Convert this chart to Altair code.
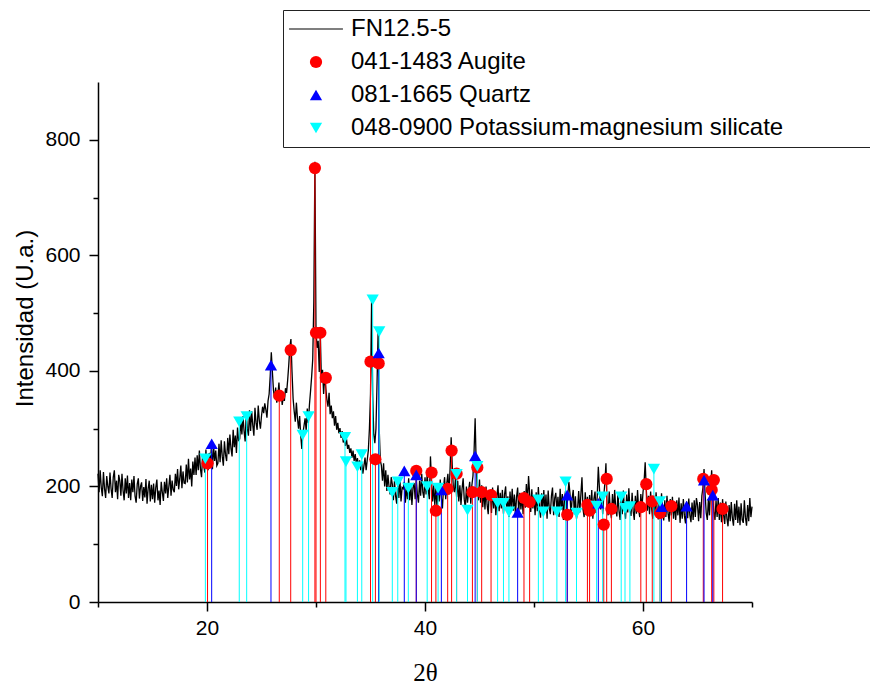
import altair as alt
import pandas as pd

pattern_start = 10
pattern_step = 0.1
pattern_rows = [
    [222, 190, 228, 198, 183, 225, 196, 180, 218, 200],  # 10
    [188, 224, 196, 180, 216, 228, 190, 210, 178, 220],  # 11
    [210, 184, 222, 193, 176, 214, 188, 219, 180, 206],  # 12
    [176, 212, 190, 218, 183, 172, 204, 214, 179, 200],  # 13
    [207, 175, 199, 181, 213, 170, 196, 210, 174, 203],  # 14
    [178, 205, 172, 198, 212, 176, 193, 168, 208, 190],  # 15
    [175, 208, 188, 214, 180, 200, 220, 184, 210, 194],  # 16
    [190, 222, 201, 230, 195, 213, 236, 197, 226, 206],  # 17
    [205, 238, 207, 248, 212, 231, 200, 243, 220, 250],  # 18
    [220, 254, 228, 262, 230, 216, 256, 236, 224, 264],  # 19
    [232, 228, 258, 238, 268, 230, 272, 244, 262, 236],  # 20
    [240, 274, 242, 280, 252, 236, 278, 255, 244, 284],  # 21
    [256, 290, 266, 252, 298, 268, 288, 258, 302, 280],  # 22
    [282, 314, 290, 322, 296, 278, 328, 300, 288, 332],  # 23
    [296, 330, 306, 288, 336, 310, 298, 340, 314, 300],  # 24
    [322, 338, 327, 344, 333, 319, 348, 360, 392, 432],  # 25
    [398, 366, 352, 371, 345, 358, 380, 349, 362, 341],  # 26
    [355, 348, 370, 362, 384, 410, 442, 455, 398, 352],  # 27
    [330, 312, 345, 318, 300, 322, 288, 265, 292, 305],  # 28
    [318, 296, 335, 310, 342, 365, 390, 420, 520, 762],  # 29
    [470, 440, 452, 398, 462, 380, 402, 360, 392, 370],  # 30
    [350, 338, 362, 325, 340, 318, 330, 305, 322, 298],  # 31
    [310, 292, 301, 284, 296, 276, 288, 270, 282, 265],  # 32
    [272, 258, 266, 250, 262, 244, 256, 238, 249, 232],  # 33
    [245, 228, 240, 222, 236, 250, 228, 246, 262, 300],  # 34
    [360, 522, 360, 290, 275, 300, 380, 470, 300, 245],  # 35
    [236, 210, 240, 200, 228, 192, 220, 200, 186, 216],  # 36
    [204, 176, 210, 184, 170, 204, 180, 212, 174, 198],  # 37
    [196, 208, 172, 200, 178, 214, 176, 204, 168, 198],  # 38
    [206, 178, 214, 186, 172, 210, 184, 222, 190, 180],  # 39
    [216, 186, 222, 194, 178, 252, 210, 174, 202, 168],  # 40
    [198, 164, 206, 174, 212, 180, 162, 200, 216, 178],  # 41
    [206, 222, 186, 230, 285, 236, 198, 190, 216, 182],  # 42
    [210, 174, 202, 168, 196, 214, 178, 162, 200, 172],  # 43
    [192, 208, 170, 202, 218, 260, 318, 236, 190, 176],  # 44
    [212, 172, 202, 164, 196, 160, 200, 168, 152, 192],  # 45
    [186, 154, 198, 162, 190, 150, 184, 202, 157, 189],  # 46
    [162, 194, 153, 187, 200, 156, 183, 147, 191, 161],  # 47
    [196, 158, 186, 150, 182, 198, 155, 189, 160, 184],  # 48
    [152, 192, 163, 204, 170, 218, 188, 156, 195, 162],  # 49
    [184, 150, 190, 157, 199, 164, 146, 188, 159, 194],  # 50
    [155, 186, 144, 193, 162, 152, 184, 198, 150, 180],  # 51
    [189, 157, 182, 147, 196, 160, 187, 142, 179, 193],  # 52
    [154, 184, 208, 188, 150, 180, 194, 152, 183, 144],  # 53
    [162, 192, 155, 186, 216, 160, 147, 190, 158, 182],  # 54
    [150, 185, 157, 194, 144, 179, 191, 154, 183, 234],  # 55
    [198, 160, 190, 152, 183, 206, 240, 168, 150, 191],  # 56
    [160, 145, 187, 154, 194, 162, 148, 189, 157, 142],  # 57
    [182, 152, 193, 158, 144, 186, 155, 197, 162, 149],  # 58
    [189, 157, 142, 184, 153, 194, 160, 147, 187, 162],  # 59
    [190, 208, 242, 196, 158, 184, 152, 191, 160, 144],  # 60
    [183, 152, 190, 158, 143, 180, 150, 188, 156, 141],  # 61
    [176, 147, 184, 153, 139, 178, 150, 182, 144, 173],  # 62
    [142, 176, 150, 181, 137, 171, 144, 178, 149, 136],  # 63
    [174, 145, 179, 150, 138, 172, 142, 176, 147, 180],  # 64
    [168, 140, 173, 145, 184, 198, 230, 186, 154, 142],  # 65
    [178, 150, 198, 228, 184, 155, 142, 176, 147, 180],  # 66
    [142, 172, 138, 178, 150, 135, 174, 144, 131, 168],  # 67
    [140, 173, 145, 132, 170, 142, 176, 137, 165, 133],  # 68
    [171, 142, 137, 176, 146, 132, 168, 140, 180, 147],  # 69
    [165],                                               # 70
]

augite_x = [20.05, 26.63, 27.68, 29.9, 30.0, 30.4, 30.9, 35.0, 35.45, 35.75,
            39.2, 40.6, 41.0, 42.08, 42.44, 42.9, 44.35, 44.8, 45.2, 46.06,
            49.08, 49.6, 53.05, 54.9, 55.1, 56.4, 56.67, 57.1, 59.8, 60.3,
            60.85, 61.56, 62.6, 65.53, 66.3, 66.5, 67.3]
augite_y = [240, 357, 436, 751, 466, 466, 388, 416, 247, 413,
            227, 224, 158, 196, 262, 222, 190, 233, 190, 185,
            180, 173, 151, 168, 158, 134, 213, 161, 164, 204,
            174, 154, 166, 213, 194, 211, 161]

quartz_x = [20.43, 25.87, 35.75, 38.1, 39.2, 41.5, 44.6, 48.5, 53.05, 55.9,
            61.7, 64.0, 65.6, 66.4]
quartz_y = [274, 410, 431, 227, 220, 194, 253, 155, 185, 171,
            165, 166, 211, 185]

kmg_x = [19.85, 22.96, 23.64, 28.78, 29.32, 32.66, 32.75, 33.8, 34.2, 35.2,
         35.8, 37.0, 37.5, 38.47, 40.2, 41.2, 42.9, 43.9, 44.8, 46.66,
         47.2, 47.7, 50.4, 50.85, 52.1, 52.9, 53.9, 55.74, 56.3, 58.0,
         58.35, 58.8, 61.0, 61.56]
kmg_y = [248, 312, 321, 289, 321, 285, 243, 234, 255, 523,
         468, 190, 208, 197, 200, 197, 221, 159, 235, 171,
         171, 156, 177, 156, 156, 208, 154, 166, 182, 182,
         162, 165, 230, 174]

series_names = ["FN12.5-5", "041-1483 Augite", "081-1665 Quartz",
                "048-0900 Potassium-magnesium silicate"]
series_colors = ["#000000", "#ff0000", "#0000ff", "#00ffff"]
series_shapes = ["M-4.4,-0.07L4.4,-0.07L4.4,0.07L-4.4,0.07Z", "circle", "triangle-up", "triangle-down"]

pat_x, pat_y = [], []
for i, row in enumerate(pattern_rows):
    for k, v in enumerate(row):
        pat_x.append(round(pattern_start + i + k * pattern_step, 1))
        pat_y.append(v)
pattern = pd.DataFrame({"two_theta": pat_x, "intensity": pat_y})

refs = pd.concat([
    pd.DataFrame({"two_theta": augite_x, "intensity": augite_y,
                  "series": series_names[1], "stick_color": series_colors[1]}),
    pd.DataFrame({"two_theta": quartz_x, "intensity": quartz_y,
                  "series": series_names[2], "stick_color": series_colors[2]}),
    pd.DataFrame({"two_theta": kmg_x, "intensity": kmg_y,
                  "series": series_names[3], "stick_color": series_colors[3]}),
], ignore_index=True)

FONT = "Liberation Sans"

x_scale = alt.Scale(domain=[10, 70], nice=False, zero=False)
y_scale = alt.Scale(domain=[0, 900], nice=False)

x_axis = alt.Axis(
    values=[10, 20, 30, 40, 50, 60, 70], format="d",
    labelExpr="datum.value % 20 == 0 ? datum.label : ''",
    tickSize={"condition": {"test": "datum.value % 20 == 0", "value": 9}, "value": 5},
    grid=False, title="2θ", titleFont="Liberation Serif", titleFontSize=25,
    titleFontWeight="normal", titleColor="black", titleX=327, titleY=58,
    labelFont=FONT, labelFontSize=21, labelColor="black", labelPadding=6,
    domainColor="black", tickColor="black", domainWidth=1.5, tickWidth=1.5,
)
y_axis = alt.Axis(
    values=[0, 100, 200, 300, 400, 500, 600, 700, 800], format="d",
    labelExpr="datum.value % 200 == 0 ? datum.label : ''",
    tickSize={"condition": {"test": "datum.value % 200 == 0", "value": 9}, "value": 5},
    grid=False, title="Intensidad (U.a.)", titleFont=FONT, titleFontSize=24,
    titleFontWeight="normal", titleColor="black", titleX=-61, titleY=236,
    labelFont=FONT, labelFontSize=21, labelColor="black", labelPadding=9,
    domainColor="black", tickColor="black", domainWidth=1.5, tickWidth=1.5,
)

line = alt.Chart(pattern).mark_line(color="black", strokeWidth=1.3).encode(
    x=alt.X("two_theta:Q", scale=x_scale, axis=x_axis),
    y=alt.Y("intensity:Q", scale=y_scale, axis=y_axis),
)

sticks = alt.Chart(refs).mark_rule(strokeWidth=1).encode(
    x=alt.X("two_theta:Q", scale=x_scale),
    y=alt.Y("intensity:Q", scale=y_scale),
    y2=alt.datum(0),
    stroke=alt.Stroke("stick_color:N", scale=None),
)

pad_tail = "\u00a0" * 18 + "\u200b"
legend = alt.Legend(
    title=None, orient="none", legendX=185, legendY=-72,
    labelFont=FONT, labelFontSize=24, labelColor="black", labelLimit=1200,
    labelExpr="datum.label + '" + pad_tail + "'",
    symbolSize=150, symbolOffset=14, labelOffset=23, rowPadding=9, padding=7,
    strokeColor="#222222", fillColor="white",
)

points = alt.Chart(refs).mark_point(filled=True, size=150, opacity=1).encode(
    x=alt.X("two_theta:Q", scale=x_scale),
    y=alt.Y("intensity:Q", scale=y_scale),
    color=alt.Color("series:N", scale=alt.Scale(domain=series_names, range=series_colors), legend=legend),
    shape=alt.Shape("series:N", scale=alt.Scale(domain=series_names, range=series_shapes), legend=legend),
)

chart = alt.layer(line, sticks, points).properties(
    width=654, height=520, autosize="none",
    padding={"left": 98, "top": 82, "right": 118, "bottom": 85},
    background="white",
).configure_view(stroke=None)

chart.save("out.html", embed_options={"renderer": "svg", "actions": False})
